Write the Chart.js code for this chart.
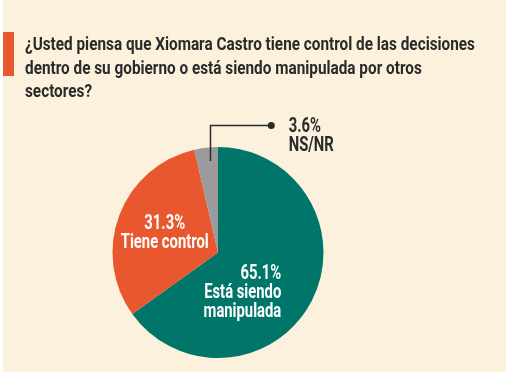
<!DOCTYPE html>
<html>
<head>
<meta charset="utf-8">
<script src="https://cdn.jsdelivr.net/npm/chart.js@4/dist/chart.umd.min.js"></script>
<style>
  html, body { margin: 0; padding: 0; background: #ffffff; }
  #panel {
    position: absolute; left: 3px; top: 0; width: 503px; height: 372px;
    background: #fbf1dd;
  }
  #bar { position: absolute; left: 3px; top: 32px; width: 11px; height: 44px; background: #e8572d; }
  #title {
    position: absolute; left: 25px; top: 33px;
    font-family: Roboto, sans-serif;
    font-weight: bold; font-size: 18.5px; line-height: 23.5px; color: #2a2a2a;
  }
  #title span { display: block; white-space: nowrap; transform-origin: 0 50%; width: max-content; }
  #wrap { position: absolute; left: 0; top: 0; width: 507px; height: 379px; }
</style>
</head>
<body>
<div id="panel"></div>
<div id="bar"></div>
<div id="wrap"><canvas id="pie"></canvas></div>
<div id="title"></div>
<script>
/* survey pie - responses to the Xiomara Castro question */

const titleLines = [
  '¿Usted piensa que Xiomara Castro tiene control de las decisiones',
  'dentro de su gobierno o está siendo manipulada por otros',
  'sectores?'
];
const categories = ['Está siendo manipulada', 'Tiene control', 'NS/NR'];
const values = [65.1, 31.3, 3.6];
const labelLines = [
  ['65.1%', 'Está siendo', 'manipulada'],
  ['31.3%', 'Tiene control'],
  ['3.6%', 'NS/NR']
];
const colors = ['#00766b', '#e8572d', '#9a9b9d'];

const FONT = 'Roboto, sans-serif';

// title: the original uses a condensed face, so squeeze the lines to fit
const titleBox = document.getElementById('title');
titleBox.innerHTML = titleLines.map(t => `<span>${t}</span>`).join('');
const spans = titleBox.querySelectorAll('span');
const squeeze = 450 / spans[0].getBoundingClientRect().width;
spans.forEach(s => { s.style.transform = `scaleX(${squeeze})`; });

// where each label sits, as a fraction of the radius from the centre
const labelStyle = [
  { dx: 0.60, dy: 0.20, align: 'right', color: '#ffffff' },
  { dx: -0.505, dy: -0.27, align: 'center', color: '#ffffff' },
  { dx: 0.67, dy: -1.19, align: 'left', color: '#2a2a2a' }
];

const sliceLabels = {
  id: 'sliceLabels',
  afterDatasetsDraw(chart) {
    const ctx = chart.ctx;
    const arcs = chart.getDatasetMeta(0).data;
    if (!arcs.length) return;
    const cx = arcs[0].x, cy = arcs[0].y, r = arcs[0].outerRadius;

    ctx.save();

    // leader line for the small slice
    const g = arcs[2];
    const a = g.startAngle + (g.endAngle - g.startAngle) * 0.65;
    const px = cx + Math.cos(a) * r * 0.9;
    const py = cy + Math.sin(a) * r * 0.87;
    const topY = cy - r * 1.204;
    const endX = cx + r * 0.505;
    ctx.strokeStyle = '#2a2a2a';
    ctx.lineWidth = 1.5;
    ctx.beginPath();
    ctx.moveTo(px, py);
    ctx.lineTo(px, topY);
    ctx.lineTo(endX, topY);
    ctx.stroke();
    ctx.fillStyle = '#2a2a2a';
    ctx.beginPath();
    ctx.arc(endX, topY, 3.5, 0, Math.PI * 2);
    ctx.fill();

    ctx.font = 'bold 20.5px ' + FONT;
    ctx.textBaseline = 'middle';
    const sx = 88 / ctx.measureText('Tiene control').width;
    labelLines.forEach((lines, i) => {
      const s = labelStyle[i];
      ctx.fillStyle = s.color;
      ctx.textAlign = s.align;
      lines.forEach((txt, j) => {
        const x = cx + s.dx * r, y = cy + s.dy * r + j * 19;
        ctx.save();
        ctx.translate(x, y);
        ctx.scale(sx, 1);
        ctx.fillText(txt, 0, 0);
        ctx.restore();
      });
    });
    ctx.restore();
  }
};

new Chart(document.getElementById('pie'), {
  type: 'pie',
  data: {
    labels: categories,
    datasets: [{
      data: values,
      backgroundColor: colors,
      borderWidth: 0
    }]
  },
  options: {
    responsive: true,
    maintainAspectRatio: false,
    animation: false,
    layout: { padding: { left: 112, right: 183, top: 147, bottom: 21 } },
    plugins: {
      legend: { display: false },
      tooltip: { enabled: false }
    }
  },
  plugins: [sliceLabels]
});
</script>
</body>
</html>
